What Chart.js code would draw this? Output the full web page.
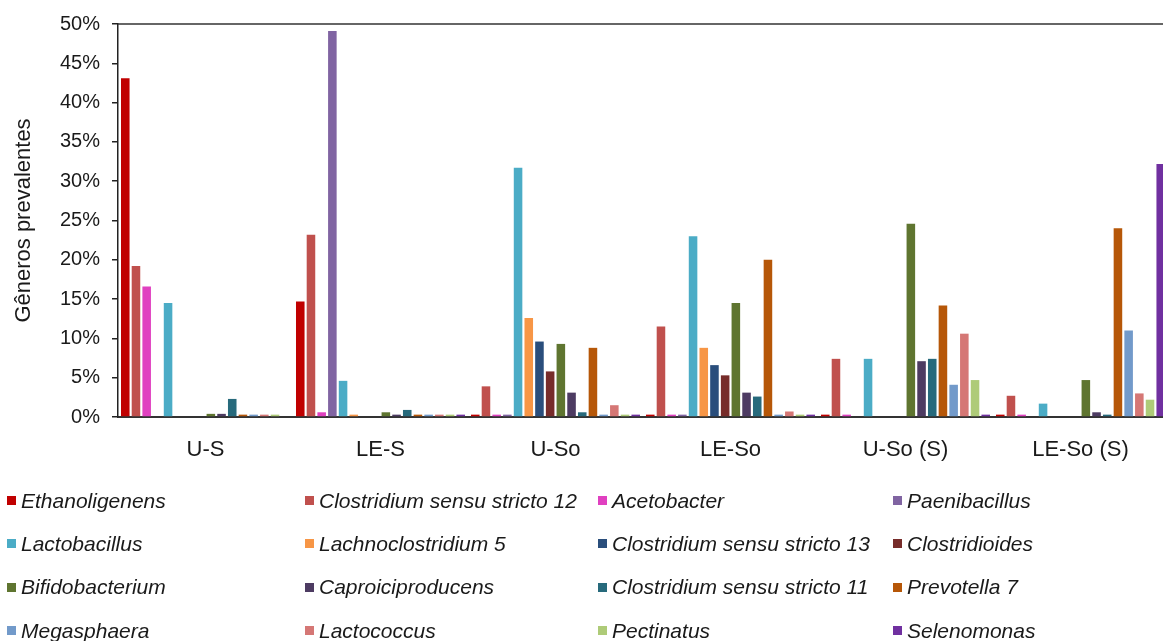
<!DOCTYPE html>
<html>
<head>
<meta charset="utf-8">
<script src="https://cdn.jsdelivr.net/npm/chart.js@4.4.1/dist/chart.umd.min.js"></script>
<style>
  html, body { margin: 0; padding: 0; background: #fff; overflow: hidden; width: 1163px; height: 641px; }
  #wrap { position: relative; width: 1163px; height: 641px; overflow: hidden; }
  #c { position: absolute; left: 0; top: 0; }
  #legend {
    position: absolute; left: 7px; top: 479px;
    display: grid;
    grid-template-columns: 298px 293px 295px 270px;
    grid-auto-rows: 43.3px;
    font: italic 21px "Liberation Sans", Arial, sans-serif;
    color: #1a1a1a;
  }
  .item { display: flex; align-items: center; white-space: nowrap; }
  .box { width: 9px; height: 9px; margin-right: 5px; flex: none; }
</style>
</head>
<body>
<div id="wrap">
  <canvas id="c" width="1172" height="480"></canvas>
  <div id="legend"></div>
</div>
<script>
// Sample groups
const groups = ['U-S', 'LE-S', 'U-So', 'LE-So', 'U-So (S)', 'LE-So (S)'];

// Relative abundance (%) of each prevalent genus per group
const ethanoligenens   = [43.1, 14.7, 0.3, 0.3, 0.3, 0.3];
const clostridium12    = [19.2, 23.2, 3.9, 11.5, 7.4, 2.7];
const acetobacter      = [16.6, 0.6, 0.3, 0.3, 0.3, 0.3];
const paenibacillus    = [0, 49.1, 0.3, 0.3, 0, 0];
const lactobacillus    = [14.5, 4.6, 31.7, 23.0, 7.4, 1.7];
const lachnoclostridium5 = [0, 0.3, 12.6, 8.8, 0, 0];
const clostridium13    = [0, 0, 9.6, 6.6, 0, 0];
const clostridioides   = [0, 0, 5.8, 5.3, 0, 0];
const bifidobacterium  = [0.4, 0.6, 9.3, 14.5, 24.6, 4.7];
const caproiciproducens = [0.4, 0.3, 3.1, 3.1, 7.1, 0.6];
const clostridium11    = [2.3, 0.9, 0.6, 2.6, 7.4, 0.3];
const prevotella7      = [0.3, 0.3, 8.8, 20.0, 14.2, 24.0];
const megasphaera      = [0.3, 0.3, 0.3, 0.3, 4.1, 11.0];
const lactococcus      = [0.3, 0.3, 1.5, 0.7, 10.6, 3.0];
const pectinatus       = [0.3, 0.3, 0.3, 0.3, 4.7, 2.2];
const selenomonas      = [0, 0.3, 0.3, 0.3, 0.3, 32.2];

// Y axis ticks (percent)
const yTicks = [0, 5, 10, 15, 20, 25, 30, 35, 40, 45, 50];

const series = [
  ['Ethanoligenens', ethanoligenens, '#C00000'],
  ['Clostridium sensu stricto 12', clostridium12, '#C0504D'],
  ['Acetobacter', acetobacter, '#E040C0'],
  ['Paenibacillus', paenibacillus, '#8064A2'],
  ['Lactobacillus', lactobacillus, '#4BACC6'],
  ['Lachnoclostridium 5', lachnoclostridium5, '#F79646'],
  ['Clostridium sensu stricto 13', clostridium13, '#2A4E7C'],
  ['Clostridioides', clostridioides, '#772C2A'],
  ['Bifidobacterium', bifidobacterium, '#5F7530'],
  ['Caproiciproducens', caproiciproducens, '#4D3B62'],
  ['Clostridium sensu stricto 11', clostridium11, '#276A7C'],
  ['Prevotella 7', prevotella7, '#B65708'],
  ['Megasphaera', megasphaera, '#729ACA'],
  ['Lactococcus', lactococcus, '#D57775'],
  ['Pectinatus', pectinatus, '#AECB78'],
  ['Selenomonas', selenomonas, '#7030A0']
];

const FONT = '"Liberation Sans", Arial, sans-serif';

// Horizontal frame line along the top of the plot area
const topFrame = {
  id: 'topFrame',
  afterDraw(chart) {
    const { ctx, chartArea: a } = chart;
    ctx.save();
    ctx.strokeStyle = '#333';
    ctx.lineWidth = 1.5;
    ctx.beginPath();
    ctx.moveTo(a.left, a.top);
    ctx.lineTo(a.right, a.top);
    ctx.stroke();
    ctx.restore();
  }
};

const chart = new Chart(document.getElementById('c'), {
  type: 'bar',
  data: {
    labels: groups,
    datasets: series.map(([name, values, color]) => ({
      label: name,
      data: values,
      backgroundColor: color,
      borderWidth: 0
    }))
  },
  options: {
    responsive: false,
    animation: false,
    devicePixelRatio: 1,
    layout: { padding: { top: 22, right: 4, left: 0, bottom: 0 } },
    datasets: { bar: { categoryPercentage: 0.978, barPercentage: 0.8 } },
    plugins: { legend: { display: false }, tooltip: { enabled: false } },
    scales: {
      x: {
        grid: { display: false, drawTicks: false },
        border: { display: true, color: '#333', width: 2 },
        ticks: { padding: 20, color: '#1a1a1a', font: { size: 22, family: FONT } },
        afterFit(scale) { scale.height = 63; }
      },
      y: {
        min: yTicks[0],
        max: yTicks[yTicks.length - 1],
        afterBuildTicks(scale) { scale.ticks = yTicks.map(v => ({ value: v })); },
        ticks: {
          callback: v => v + '%',
          padding: 12,
          color: '#1a1a1a',
          font: { size: 20, family: FONT }
        },
        grid: { drawOnChartArea: false, drawTicks: true, tickLength: 6, color: '#222', lineWidth: 1.5 },
        border: { display: true, color: '#222', width: 1.5 },
        title: {
          display: true,
          text: 'Gêneros prevalentes',
          color: '#1a1a1a',
          font: { size: 22, family: FONT },
          padding: { top: 11, bottom: 0 }
        },
        afterFit(scale) { scale.width = 118; }
      }
    }
  },
  plugins: [topFrame]
});

// Four-column legend built from the chart's datasets
const legend = document.getElementById('legend');
chart.data.datasets.forEach(ds => {
  const item = document.createElement('div');
  item.className = 'item';
  const box = document.createElement('span');
  box.className = 'box';
  box.style.background = ds.backgroundColor;
  const txt = document.createElement('span');
  txt.textContent = ds.label;
  item.appendChild(box);
  item.appendChild(txt);
  legend.appendChild(item);
});
</script>
</body>
</html>
